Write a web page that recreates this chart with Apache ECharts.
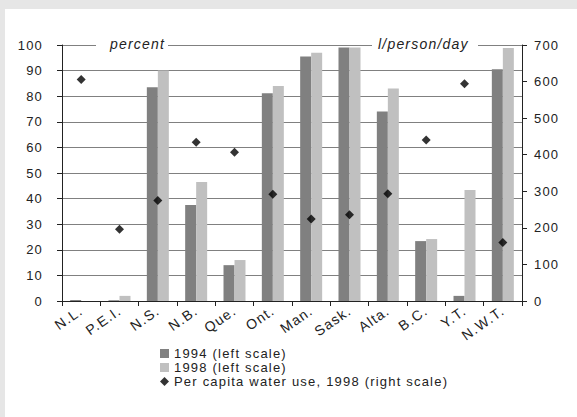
<!DOCTYPE html>
<html><head><meta charset="utf-8">
<script src="https://cdn.jsdelivr.net/npm/echarts@6/dist/echarts.min.js"></script>
<style>html,body{margin:0;padding:0;background:#e6e6e6;}#c{width:577px;height:417px;}#c svg text{letter-spacing:1.2px;}</style>
</head><body><div id="c"></div>
<script>
var categories = ['N.L.','P.E.I.','N.S.','N.B.','Que.','Ont.','Man.','Sask.','Alta.','B.C.','Y.T.','N.W.T.'];
var pct1994 = [0.4, 0.3, 83.5, 37.5, 14, 81.2, 95.5, 99, 74, 23.4, 2, 90.5];
var pct1998 = [0, 2, 90, 46.5, 16, 84, 97, 99, 83, 24.2, 43.4, 98.8];
var perCapita = [606, 196, 275, 434, 407, 292, 224, 236, 293, 440, 594, 160];
var leftTicks = {min: 0, max: 100, interval: 10};
var rightTicks = {min: 0, max: 700, interval: 100};

var chart = echarts.init(document.getElementById('c'), null, {renderer: 'svg'});
var font = 'Liberation Sans, Arial, sans-serif';
chart.setOption({
  backgroundColor: '#e6e6e6',
  animation: false,
  textStyle: {fontFamily: font},
  graphic: [
    {type: 'rect', left: 5, top: 9, z: -10, shape: {width: 572, height: 408}, style: {fill: '#ffffff'}},
    {type: 'rect', left: 96, top: 40, z: 99, shape: {width: 72, height: 10}, style: {fill: '#ffffff'}},
    {type: 'rect', left: 372, top: 40, z: 99, shape: {width: 106, height: 10}, style: {fill: '#ffffff'}},
    {type: 'text', left: 110, top: 37, z: 100, style: {text: 'percent', font: 'italic 14px ' + font, fill: '#222'}},
    {type: 'text', left: 378, top: 37, z: 100, style: {text: 'l/person/day', font: 'italic 14px ' + font, fill: '#222'}}
  ],
  grid: {left: 62, right: 55, top: 45, bottom: 116},
  legend: {
    orient: 'vertical', left: 155, top: 342, itemGap: 1, itemWidth: 9, itemHeight: 9,
    textStyle: {fontSize: 13, color: '#222', fontFamily: font},
    data: [
      {name: '1994 (left scale)', icon: 'rect'},
      {name: '1998 (left scale)', icon: 'rect'},
      {name: 'Per capita water use, 1998 (right scale)', icon: 'diamond'}
    ]
  },
  xAxis: {
    type: 'category', data: categories, boundaryGap: true,
    axisLine: {lineStyle: {color: '#222', width: 1}},
    axisTick: {show: true, interval: 0, length: 5, lineStyle: {color: '#222'}},
    axisLabel: {interval: 0, rotate: 35, fontSize: 14, color: '#222', margin: 8, fontFamily: font}
  },
  yAxis: [
    {type: 'value', min: leftTicks.min, max: leftTicks.max, interval: leftTicks.interval, position: 'left',
     axisLine: {show: true, lineStyle: {color: '#222'}},
     axisTick: {show: true, length: 5, lineStyle: {color: '#222'}},
     axisLabel: {fontSize: 13, color: '#222', margin: 19, fontFamily: font},
     splitLine: {show: true, lineStyle: {color: '#808080', width: 1}}},
    {type: 'value', min: rightTicks.min, max: rightTicks.max, interval: rightTicks.interval, position: 'right',
     axisLine: {show: true, lineStyle: {color: '#222'}},
     axisTick: {show: true, length: 5, lineStyle: {color: '#222'}},
     axisLabel: {fontSize: 13, color: '#222', margin: 12, fontFamily: font},
     splitLine: {show: false}}
  ],
  series: [
    {name: '1994 (left scale)', type: 'bar', yAxisIndex: 0, data: pct1994, barWidth: 11, barGap: '0%', itemStyle: {color: '#808080'}},
    {name: '1998 (left scale)', type: 'bar', yAxisIndex: 0, data: pct1998, barWidth: 11, barGap: '0%', itemStyle: {color: '#c0c0c0'}},
    {name: 'Per capita water use, 1998 (right scale)', type: 'scatter', yAxisIndex: 1, data: perCapita, symbol: 'diamond', symbolSize: 9, itemStyle: {color: '#000'}, z: 5}
  ]
});
</script></body></html>
